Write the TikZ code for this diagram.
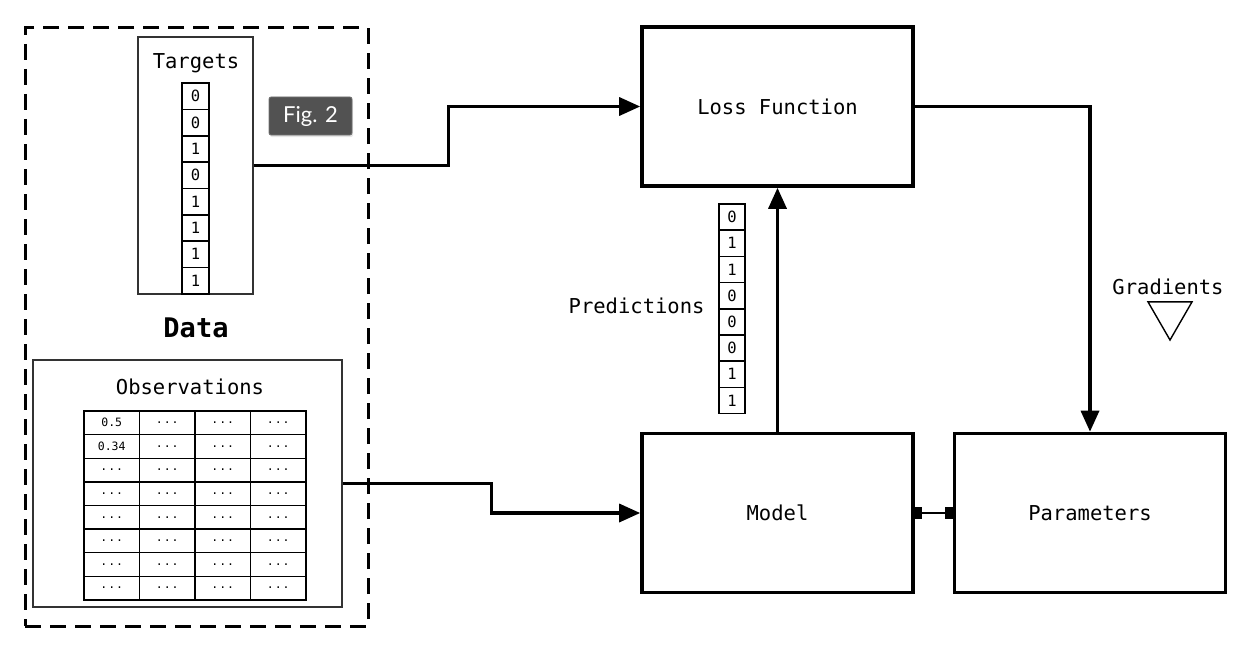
\documentclass[tikz,border=0pt]{standalone}
\usepackage{fontspec}
\setmonofont{DejaVu Sans Mono}
\setsansfont{Lato}
\usetikzlibrary{arrows.meta,shapes.geometric,shadows}
\newcommand\mydots{.\kern1pt.\kern1pt.}
\begin{document}
\begin{tikzpicture}[x=1pt,y=-1pt,
  font=\ttfamily\fontsize{20.5}{24}\selectfont,
  bigbox/.style={draw, line width=3.6pt, minimum width=271pt, minimum height=159pt, inner sep=0pt},
  thinbox/.style={draw=black!80, line width=1.4pt, inner sep=0pt},
  vcell/.style={draw, line width=1.6pt, minimum width=27pt, minimum height=26.3pt, inner sep=0pt, font=\ttfamily\fontsize{15.5}{18}\selectfont},
  ocell/.style={draw, line width=1.4pt, minimum width=55.5pt, minimum height=23.6pt, inner sep=0pt, font=\ttfamily\fontsize{11.5}{13}\selectfont},
  conn/.style={line width=3.4pt, -{Triangle[length=21pt,width=18pt]}},
]
\useasboundingbox (0,0) rectangle (1244,650);

% Data container
\node[draw, line width=3pt, dash pattern=on 16pt off 9pt, minimum width=343pt, minimum height=598pt, inner sep=0pt] (data) at (196.5,327) {};
\node[font=\ttfamily\bfseries\fontsize{27}{30}\selectfont] (datalbl) at (196,328) {Data};

% Targets
\node[thinbox, minimum width=115pt, minimum height=257pt] (tbox) at (195.5,165.5) {};
\node (tlbl) at (196,63) {Targets};
\foreach \v [count=\i] in {0,0,1,0,1,1,1,1}
  \node[vcell] (t\i) at (195.5,{96.2+26.35*(\i-1)}) {\hfill\v\hspace{3pt}};

% Fig. 2 badge
\node[fill={rgb,255:red,82;green,82;blue,82}, draw={rgb,255:red,115;green,115;blue,115}, line width=0.8pt, text=white, rounded corners=2pt, minimum width=83pt, minimum height=38pt, inner sep=0pt, font=\sffamily\fontsize{22}{26}\selectfont, drop shadow={opacity=0.2, shadow xshift=1pt, shadow yshift=-2pt}] (fig) at (310.5,116) {Fig. 2};

% Observations
\node[thinbox, minimum width=309pt, minimum height=247pt] (obox) at (187.5,483.5) {};
\node (olbl) at (190,387) {Observations};
\foreach \r in {1,...,8}
  \foreach \c in {1,...,4}
    \node[ocell] (o\r-\c) at ({111.75+55.5*(\c-1)},{422.8+23.6*(\r-1)})
      {\ifnum\c=1 \ifnum\r=1 0.5\else\ifnum\r=2 0.34\else\mydots\fi\fi\else\mydots\fi};

% Main boxes
\node[bigbox] (loss) at (777.5,106.5) {Loss Function};
\node[bigbox] (model) at (777.5,513) {Model};
\node[bigbox] (params) at (1090,513) {Parameters};

% Predictions
\node[anchor=east] (plbl) at (708,306) {Predictions};
\foreach \v [count=\i] in {0,1,1,0,0,0,1,1}
  \node[vcell, minimum width=26pt, minimum height=26.2pt] (p\i) at (732,{217.1+26.2*(\i-1)}) {\hfill\v\hspace{3pt}};

% Gradients
\node (glbl) at (1168,287) {Gradients};
\node[draw, line width=1.4pt, regular polygon, regular polygon sides=3, shape border rotate=180, minimum size=50.8pt, inner sep=0pt] (gtri) at (1170,314.6) {};

% Connectors
\draw[conn] (tbox.east) -- ++(195,0) |- (loss.west);
\draw[conn] (obox.east) -- ++(149,0) |- (model.west);
\draw[conn] (model.north) -- (loss.south);
\draw[conn] (loss.east) -| (params.north);
\draw[line width=2.2pt, {Square[length=7pt,width=12pt]}-{Square[length=8pt,width=12pt]}] (model.east) -- (params.west);
\end{tikzpicture}
\end{document}
